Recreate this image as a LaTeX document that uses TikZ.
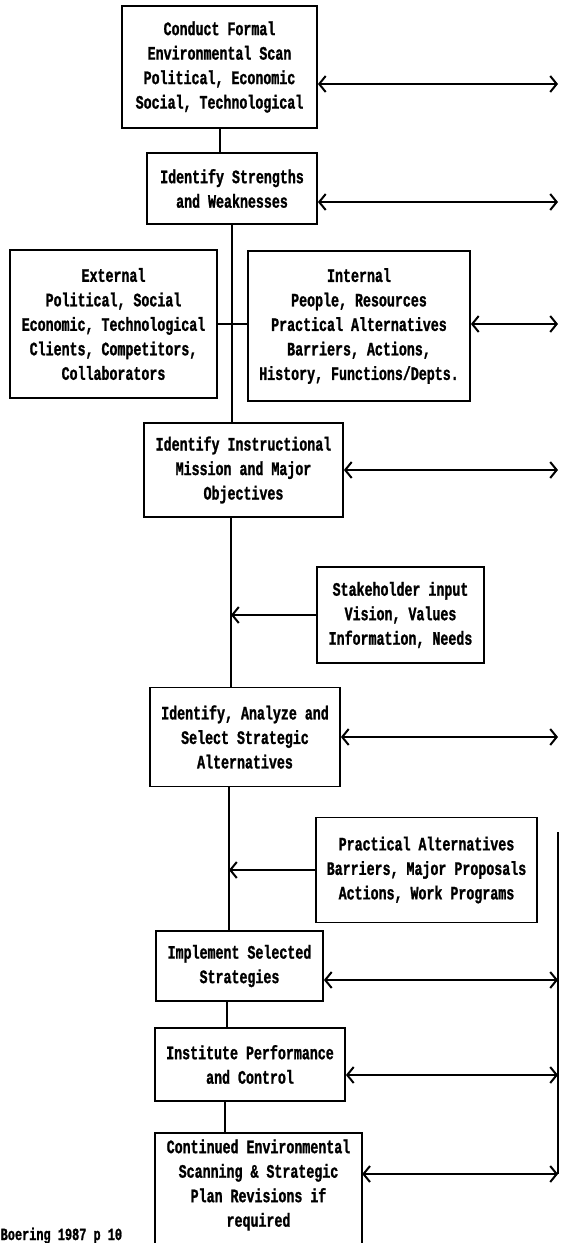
\documentclass[tikz,border=0pt]{standalone}
\usepackage{fontspec}
\newfontfamily\dotfont[FakeStretch=0.70, BoldFeatures={FakeBold=1.2}]{Liberation Mono}
\usetikzlibrary{arrows.meta}
\begin{document}
\begin{tikzpicture}[x=1pt,y=-1pt,
  box/.style={draw, line width=1.8pt, align=center, inner sep=0pt,
    font=\dotfont\bfseries\fontsize{19}{24.5}\selectfont},
  txt/.style={align=center, inner sep=0pt,
    font=\dotfont\bfseries\fontsize{19}{24.5}\selectfont},
  link/.style={line width=1.9pt},
  barb/.tip={Straight Barb[length=6.5pt,width=16pt,line width=2pt]},
  both/.style={line width=1.9pt, barb-barb},
  feed/.style={line width=1.9pt, -barb}]
\path[use as bounding box] (0,0) rectangle (560,1243);
\clip (0,0) rectangle (560,1243);
\fill[white] (0,0) rectangle (560,1243);

% boxes
\node[box, minimum width=195, minimum height=122] (scan) at (219.5,67)
  {Conduct Formal\\Environmental Scan\\Political, Economic\\Social, Technological};
\node[box, minimum width=170, minimum height=71] (sw) at (232,188.5)
  {Identify Strengths\\and Weaknesses};
\node[box, minimum width=207, minimum height=148] (ext) at (113.5,324)
  {External\\Political, Social\\Economic, Technological\\Clients, Competitors,\\Collaborators};
\node[box, minimum width=222, minimum height=150] (int) at (359,326)
  {Internal\\People, Resources\\Practical Alternatives\\Barriers, Actions,\\History, Functions/Depts.};
\node[box, minimum width=199, minimum height=94] (mis) at (243.5,470)
  {Identify Instructional\\Mission and Major\\Objectives};
\node[box, minimum width=167, minimum height=96] (stk) at (400.5,615)
  {Stakeholder input\\Vision, Values\\Information, Needs};
\node[box, minimum width=190, minimum height=99] (ana) at (245,737)
  {Identify, Analyze and\\Select Strategic\\Alternatives};
\node[box, minimum width=221, minimum height=105] (pra) at (426.5,870)
  {Practical Alternatives\\Barriers, Major Proposals\\Actions, Work Programs};
\node[box, minimum width=167, minimum height=70] (imp) at (239.5,966)
  {Implement Selected\\Strategies};
\node[box, minimum width=190, minimum height=73] (ins) at (250,1064.5)
  {Institute Performance\\and Control};
\node[txt, minimum width=207, minimum height=104] (con) at (258.5,1185)
  {Continued Environmental\\Scanning \& Strategic\\Plan Revisions if\\required};
\draw[line width=1.8pt] ([yshift=-30pt]con.south west) -- (con.north west) -- (con.north east) -- ([yshift=-30pt]con.south east);

\node[anchor=base west, inner sep=0pt, font=\dotfont\bfseries\fontsize{17}{20}\selectfont] (cite) at (0.5,1240) {Boering 1987 p 10};

% spine coordinates
\coordinate (sA) at (220,0);
\coordinate (sB) at (232,0);
\coordinate (sC) at (231,0);
\coordinate (sD) at (229,0);
\coordinate (sE) at (227,0);
\coordinate (sF) at (225,0);
\coordinate (rt) at (558,0);
\coordinate (rtop) at (558,832);
\coordinate (rbot) at (558,1174);

% vertical spine
\draw[link] (scan.south -| sA) -- (sw.north -| sA);
\draw[link] (sw.south -| sB) -- (mis.north -| sB);
\draw[link] (ext.east) -- (ext.east -| int.west);
\draw[link] (mis.south -| sC) -- (ana.north -| sC);
\draw[link] (ana.south -| sD) -- (imp.north -| sD);
\draw[link] (imp.south -| sE) -- (ins.north -| sE);
\draw[link] (ins.south -| sF) -- (con.north -| sF);

% inputs from the right
\draw[feed] (stk.west) -- (stk.west -| sC);
\draw[feed] (pra.west) -- (pra.west -| sD);

% two-way links to the right
\coordinate (y1) at (0,84);
\coordinate (y2) at (0,202);
\coordinate (y4) at (0,980);
\coordinate (y5) at (0,1075);
\draw[both] (scan.east |- y1) -- (rt |- y1);
\draw[both] (sw.east |- y2) -- (rt |- y2);
\draw[both] (int.east |- ext.east) -- (rt |- ext.east);
\draw[both] (mis.east) -- (mis.east -| rt);
\draw[both] (ana.east) -- (ana.east -| rt);
\draw[both] (imp.east |- y4) -- (rt |- y4);
\draw[both] (ins.east |- y5) -- (rt |- y5);
\draw[both] (con.east |- rbot) -- (rbot);
\draw[link] (rtop) -- (rbot);
\end{tikzpicture}
\end{document}
